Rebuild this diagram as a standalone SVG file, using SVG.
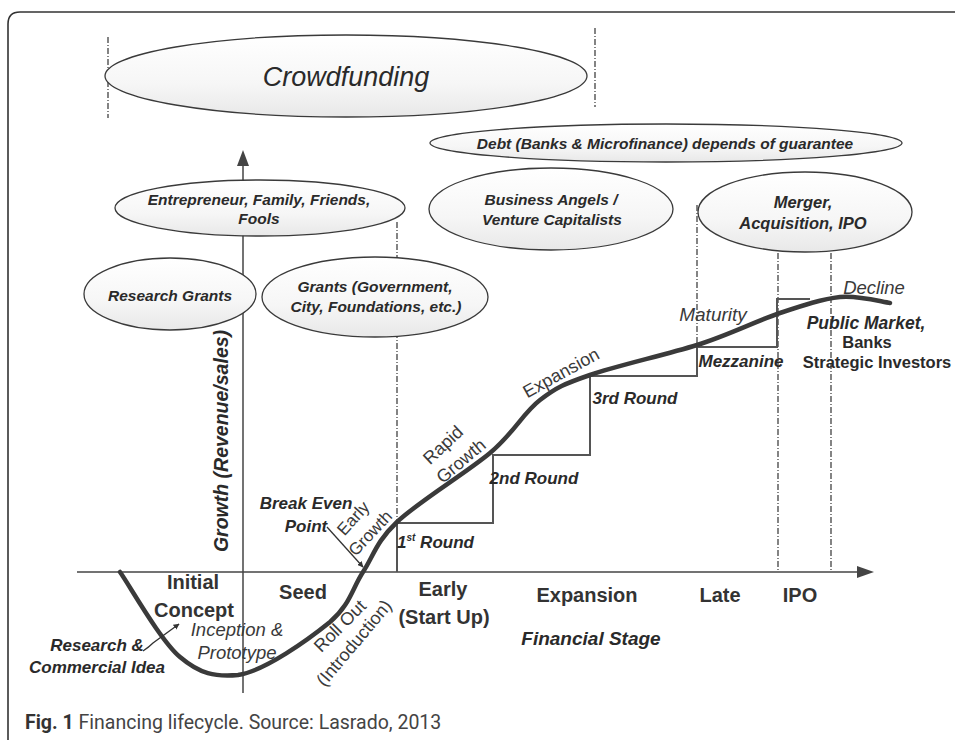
<svg xmlns="http://www.w3.org/2000/svg" width="955" height="740" viewBox="0 0 955 740">
<defs>
<linearGradient id="eg" x1="0" y1="0" x2="0" y2="1">
<stop offset="0" stop-color="#ffffff"/>
<stop offset="0.6" stop-color="#f6f6f6"/>
<stop offset="1" stop-color="#e8e8e8"/>
</linearGradient>
<marker id="ah" viewBox="0 0 10 10" refX="9" refY="5" markerWidth="6" markerHeight="6" orient="auto" markerUnits="userSpaceOnUse">
<path d="M0,0 L10,5 L0,10 z" fill="#333"/>
</marker>
<style>
.ell{fill:url(#eg);stroke:#3a3a3a;stroke-width:1.3}
.t{font-family:"Liberation Sans",Arial,sans-serif;fill:#2a2a2a;text-anchor:middle}
.bi{font-weight:bold;font-style:italic}
.b{font-weight:bold}
.i{font-style:italic}
.stage{font-weight:bold;font-size:20px;fill:#333}
.dash{stroke:#333;stroke-width:1.2;stroke-dasharray:6 2 1 2;fill:none}
.axis{stroke:#444;stroke-width:1.5;fill:none}
.step{stroke:#555;stroke-width:2;fill:none}
.curve{stroke:#3a3a3a;stroke-width:4.5;fill:none;stroke-linecap:round;stroke-linejoin:round}
.lbl{fill:#3a3a3a}
</style>
</defs>
<rect width="955" height="740" fill="#fff"/>
<path d="M8,740 L8,24 Q8,12 20,12 L955,12" fill="none" stroke="#333" stroke-width="1.6"/>

<g id="connectors">
<line class="dash" x1="108" y1="37" x2="108" y2="118"/>
<line class="dash" x1="595" y1="28" x2="595" y2="107"/>
<line class="dash" x1="397" y1="222" x2="397" y2="522"/>
<line class="dash" x1="697" y1="205" x2="697" y2="347"/>
<line class="dash" x1="778" y1="253" x2="778" y2="572"/>
<line class="dash" x1="831" y1="253" x2="831" y2="572"/>
<line class="axis" x1="243" y1="160" x2="243" y2="693"/>
<polygon points="243,150 237,166 249,166" fill="#444"/>
<line class="axis" x1="77" y1="572" x2="860" y2="572"/>
<polygon points="874,572 857,566 857,578" fill="#444"/>
<path class="step" d="M397,572 L397,523 L493,523 L493,455 L590,455 L590,376 L697,376 L697,347 L777,347 L777,299 L810,299"/>
<path class="curve" d="M120,572 C130,586 160,640 180,657 C200,674 215,677 238,675 C265,671 309,639 330,622 C350,605 352,589 363,572 C374,555 376,542 397,522 C418,502 466,473 490,453 C514,433 523,413 540,400 C557,387 564,384 590,375 C616,366 665,355 697,345 C729,335 756,321 780,313 C804,305 822,299 840,297 C858,295 882,302 890,303"/>
<path d="M143,651 Q149,647 153,643 L179,624" fill="none" stroke="#333" stroke-width="1.3" marker-end="url(#ah)"/>
<path d="M327,527 L363,567" fill="none" stroke="#333" stroke-width="1.3" marker-end="url(#ah)"/>
</g>

<g id="crowdfunding">
<ellipse class="ell" cx="346" cy="76" rx="241" ry="41"/>
<text class="t i" x="346" y="86" font-size="27">Crowdfunding</text>
</g>
<g id="debt">
<ellipse class="ell" cx="666" cy="143" rx="236" ry="19"/>
<text class="t bi" x="665" y="148.5" font-size="15.5">Debt (Banks &amp; Microfinance) depends of guarantee</text>
</g>
<g id="entrepreneur">
<ellipse class="ell" cx="260" cy="208" rx="145" ry="28"/>
<text class="t bi" x="259" y="205" font-size="15.5">Entrepreneur, Family, Friends,</text>
<text class="t bi" x="259" y="224" font-size="15.5">Fools</text>
</g>
<g id="angels">
<ellipse class="ell" cx="551" cy="209" rx="122" ry="41"/>
<text class="t bi" x="551" y="205" font-size="15.5">Business Angels /</text>
<text class="t bi" x="552" y="225" font-size="15.5">Venture Capitalists</text>
</g>
<g id="merger">
<ellipse class="ell" cx="805" cy="212" rx="107" ry="40"/>
<text class="t bi" x="803" y="208" font-size="16.5">Merger,</text>
<text class="t bi" x="803" y="229" font-size="16.5">Acquisition, IPO</text>
</g>
<g id="research-grants">
<ellipse class="ell" cx="170" cy="294" rx="86" ry="36"/>
<text class="t bi" x="170" y="301" font-size="15.5">Research Grants</text>
</g>
<g id="grants">
<ellipse class="ell" cx="375" cy="297" rx="113" ry="40"/>
<text class="t bi" x="375" y="292" font-size="15.5">Grants (Government,</text>
<text class="t bi" x="376" y="312" font-size="15.5">City, Foundations, etc.)</text>
</g>

<g id="axis-labels">
<text class="t bi" transform="translate(228,441) rotate(-90)" x="0" y="0" font-size="19.5">Growth (Revenue/sales)</text>
<text class="t stage" x="193" y="589">Initial</text>
<text class="t stage" x="194" y="617">Concept</text>
<text class="t stage" x="303" y="599">Seed</text>
<text class="t stage" x="443" y="596">Early</text>
<text class="t stage" x="444" y="624">(Start Up)</text>
<text class="t stage" x="587" y="602">Expansion</text>
<text class="t stage" x="720" y="602">Late</text>
<text class="t stage" x="800" y="602">IPO</text>
<text class="t bi" x="591" y="645" font-size="19" fill="#333">Financial Stage</text>
</g>

<g id="curve-labels">
<text class="t bi" x="97" y="651" font-size="17">Research &amp;</text>
<text class="t bi" x="97" y="673" font-size="17">Commercial Idea</text>
<text class="t i lbl" x="237" y="636" font-size="18.5">Inception &amp;</text>
<text class="t i lbl" x="237" y="659" font-size="18.5">Prototype</text>
<text class="t lbl" transform="translate(340,626) rotate(-45)" x="0" y="6" font-size="18">Roll Out</text>
<text class="t lbl" transform="translate(354,643) rotate(-50)" x="0" y="6" font-size="18">(Introduction)</text>
<text class="t bi" x="306" y="509" font-size="17">Break Even</text>
<text class="t bi" x="306" y="532" font-size="17">Point</text>
<text class="t lbl" transform="translate(353,518) rotate(-48)" x="0" y="6" font-size="17">Early</text>
<text class="t lbl" transform="translate(370,533) rotate(-47)" x="0" y="6" font-size="17">Growth</text>
<text class="t lbl" transform="translate(443,445) rotate(-43)" x="0" y="6" font-size="18">Rapid</text>
<text class="t lbl" transform="translate(461,461) rotate(-40)" x="0" y="6" font-size="18">Growth</text>
<text class="t lbl" transform="translate(561,373) rotate(-29)" x="0" y="6" font-size="18">Expansion</text>
<text class="t i lbl" x="713" y="321" font-size="19">Maturity</text>
<text class="t i lbl" x="874" y="294" font-size="18.5">Decline</text>
<text class="t bi" x="866" y="329" font-size="17.5">Public Market,</text>
<text class="t b" x="867" y="348" font-size="16.5">Banks</text>
<text class="t b" x="877" y="368" font-size="16.5">Strategic Investors</text>
<text class="t bi" x="741" y="367" font-size="17">Mezzanine</text>
<text class="t bi" x="635" y="404" font-size="17">3rd Round</text>
<text class="t bi" x="534" y="484" font-size="17">2nd Round</text>
<text class="t bi" x="397" y="548" font-size="17" style="text-anchor:start">1<tspan font-size="10" dy="-7">st</tspan><tspan dy="7"> Round</tspan></text>
</g>

<g id="caption">
<text x="25" y="729" font-family="Roboto, 'Liberation Sans', sans-serif" font-size="19.5" fill="#444"><tspan font-weight="bold" fill="#333">Fig. 1</tspan> Financing lifecycle. Source: Lasrado, 2013</text>
</g>
</svg>
